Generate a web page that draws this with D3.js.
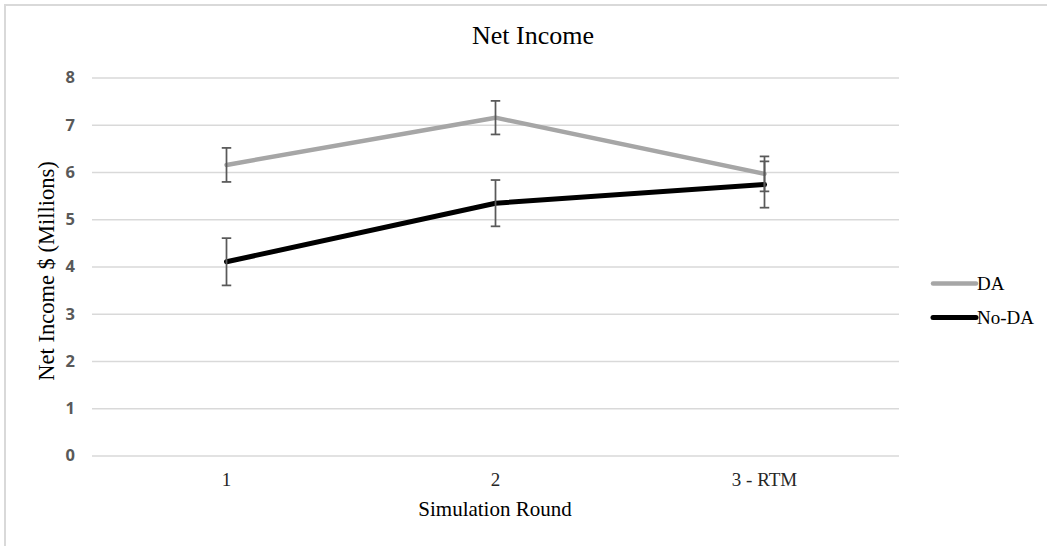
<!DOCTYPE html>
<html>
<head>
<meta charset="utf-8">
<script src="https://cdn.jsdelivr.net/npm/d3@7"></script>
<style>
  html, body { margin: 0; padding: 0; background: #fff; }
  svg { display: block; }
</style>
</head>
<body>
<svg id="chart" width="1047" height="546"></svg>
<script>
// Simulation rounds on the x axis
const rounds = ["1", "2", "3 - RTM"];
// Mean net income, $ millions
const daValues = [6.15, 7.15, 5.96];
const noDaValues = [4.10, 5.34, 5.735];
// Error bar half-widths, $ millions
const daErrors = [0.36, 0.355, 0.37];
const noDaErrors = [0.50, 0.49, 0.49];
// Y axis ticks
const yTicks = [0, 1, 2, 3, 4, 5, 6, 7, 8];

const series = [
  { name: "DA", values: daValues, errors: daErrors, color: "#a6a6a6", width: 4.5 },
  { name: "No-DA", values: noDaValues, errors: noDaErrors, color: "#000000", width: 5 }
];

const SERIF = "Liberation Serif";
const svg = d3.select("#chart");
const W = 1047, H = 546;
const plot = { left: 92, right: 899, top: 77.5, bottom: 455.5 };

// Chart area frame
svg.append("rect")
  .attr("x", 5).attr("y", 5)
  .attr("width", W + 10).attr("height", H + 10)
  .attr("fill", "#fff")
  .attr("stroke", "#d9d9d9").attr("stroke-width", 2);

const x = d3.scaleBand().domain(rounds).range([plot.left, plot.right]);
const y = d3.scaleLinear().domain([0, 8]).range([plot.bottom, plot.top]);
const cx = d => x(d) + x.bandwidth() / 2;

// Gridlines and y tick labels
const yAxis = d3.axisLeft(y).tickValues(yTicks)
  .tickSize(-(plot.right - plot.left)).tickPadding(17).tickFormat(d3.format("d"));
const gy = svg.append("g").attr("transform", `translate(${plot.left},0)`).call(yAxis);
gy.select(".domain").remove();
gy.selectAll(".tick line").attr("stroke", "#d9d9d9").attr("stroke-width", 1.5);
gy.selectAll(".tick text")
  .attr("fill", "#595959")
  .attr("font-family", "Open Sans")
  .attr("font-weight", "bold")
  .attr("font-size", 16.5);

// X tick labels
const xAxis = d3.axisBottom(x).tickSize(0).tickPadding(17);
const gx = svg.append("g").attr("transform", `translate(0,${plot.bottom})`).call(xAxis);
gx.select(".domain").remove();
gx.selectAll(".tick text")
  .attr("fill", "#262626")
  .attr("font-family", SERIF)
  .attr("font-size", 19);

// Lines
const line = d3.line().x((d, i) => cx(rounds[i])).y(d => y(d));
series.forEach(s => {
  svg.append("path")
    .datum(s.values)
    .attr("d", line)
    .attr("fill", "none")
    .attr("stroke", s.color)
    .attr("stroke-width", s.width)
    .attr("stroke-linejoin", "round")
    .attr("stroke-linecap", "round");
});

// Error bars
const cap = 9.5;
series.forEach(s => {
  const g = svg.append("g").attr("stroke", "#595959").attr("stroke-width", 1.75);
  s.values.forEach((v, i) => {
    const xc = cx(rounds[i]);
    const hi = y(v + s.errors[i]), lo = y(v - s.errors[i]);
    g.append("line").attr("x1", xc).attr("x2", xc).attr("y1", hi).attr("y2", lo);
    g.append("line").attr("x1", xc - cap / 2).attr("x2", xc + cap / 2).attr("y1", hi).attr("y2", hi);
    g.append("line").attr("x1", xc - cap / 2).attr("x2", xc + cap / 2).attr("y1", lo).attr("y2", lo);
  });
});

// Title
svg.append("text")
  .attr("x", 533).attr("y", 44)
  .attr("text-anchor", "middle")
  .attr("fill", "#000")
  .attr("font-family", SERIF)
  .attr("font-size", 26)
  .text("Net Income");

// Axis titles
svg.append("text")
  .attr("x", 495).attr("y", 516)
  .attr("text-anchor", "middle")
  .attr("fill", "#000")
  .attr("font-family", SERIF)
  .attr("font-size", 21)
  .text("Simulation Round");

svg.append("text")
  .attr("transform", "translate(54,271) rotate(-90)")
  .attr("text-anchor", "middle")
  .attr("fill", "#000")
  .attr("font-family", SERIF)
  .attr("font-size", 22.5)
  .text("Net Income $ (Millions)");

// Legend
const legend = svg.append("g");
series.forEach((s, i) => {
  const ly = 283.5 + i * 34;
  legend.append("line")
    .attr("x1", 933).attr("x2", 976).attr("y1", ly).attr("y2", ly)
    .attr("stroke", s.color).attr("stroke-width", s.width)
    .attr("stroke-linecap", "round");
  legend.append("text")
    .attr("x", 977).attr("y", ly + 6.5)
    .attr("fill", "#000")
    .attr("font-family", SERIF)
    .attr("font-size", 19)
    .text(s.name);
});
</script>
</body>
</html>
